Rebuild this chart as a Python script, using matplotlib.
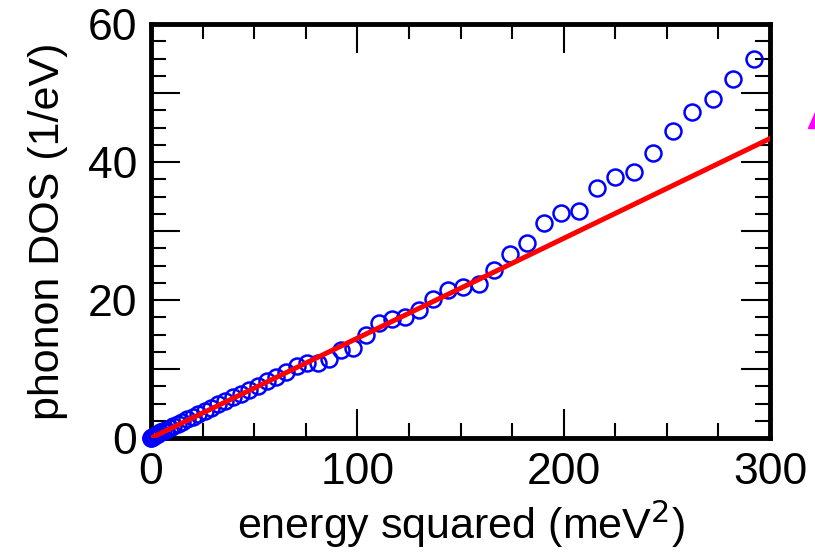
import matplotlib
matplotlib.use("Agg")
import matplotlib.pyplot as plt
from matplotlib.ticker import MultipleLocator
from matplotlib.patches import Polygon

plt.rcParams['font.family'] = ['Liberation Sans Narrow', 'Liberation Sans', 'DejaVu Sans']

# energy squared (meV^2) and phonon DOS (1/eV)
energy_sq = [0.0, 0.09, 0.36, 0.81, 1.44, 2.25, 3.24, 4.41, 5.76, 7.29,
             9.0, 10.9, 13.0, 15.2, 17.6, 20.3, 23.0, 26.0, 29.2, 32.5,
             36.0, 39.7, 43.6, 47.6, 51.8, 56.3, 60.8, 65.6, 70.6, 75.7,
             81.0, 86.5, 92.2, 98.0, 104.0, 110.3, 116.6, 123.2, 130.0, 136.9,
             144.0, 151.3, 158.8, 166.4, 174.2, 182.3, 190.4, 198.8, 207.4, 216.1,
             225.0, 234.1, 243.4, 252.8, 262.4, 272.3, 282.2, 292.4]
dos = [0.0, 0.05, 0.1, 0.2, 0.3, 0.45, 0.6, 0.8, 1.0, 1.2,
       1.45, 1.7, 2.0, 2.35, 2.7, 3.1, 3.5, 3.95, 4.4, 4.9,
       5.4, 5.9, 6.4, 6.9, 7.5, 8.3, 8.9, 9.5, 10.5, 10.9,
       10.8, 11.5, 12.7, 13.1, 14.9, 16.7, 17.3, 17.6, 18.6, 20.1,
       21.5, 21.9, 22.3, 24.4, 26.7, 28.2, 31.1, 32.6, 32.9, 36.3,
       37.8, 38.6, 41.3, 44.5, 47.2, 49.1, 52.0, 55.0]

# linear fit drawn in red
fit_x = [0, 300]
fit_y = [0, 43.4]

fig = plt.figure(figsize=(8.15, 5.55), dpi=100)
ax = fig.add_axes([151 / 815, 1 - 438 / 555, 619 / 815, 414 / 555])

ax.plot(energy_sq, dos, 'o', ms=11.5, mfc='none', mec='#0000ff', mew=1.8,
        clip_on=False, zorder=3)
ax.plot(fit_x, fit_y, '-', color='#ff0000', lw=3.6, zorder=4)

ax.set_xlim(0, 300)
ax.set_ylim(0, 60)
ax.xaxis.set_major_locator(MultipleLocator(100))
ax.xaxis.set_minor_locator(MultipleLocator(25))
ax.yaxis.set_major_locator(MultipleLocator(10))
ax.yaxis.set_minor_locator(MultipleLocator(2.5))
ax.set_yticks([0, 10, 20, 30, 40, 50, 60])
ax.set_yticklabels(['0', '', '20', '', '40', '', '60'])

ax.tick_params(which='both', direction='in', top=True, right=True,
               labelsize=32, width=1.5, pad=10)
ax.tick_params(which='major', length=21)
ax.tick_params(which='minor', length=10.5)
for s in ax.spines.values():
    s.set_linewidth(3.5)

ax.set_xlabel('energy squared (meV$^2$)', fontsize=31, labelpad=4)
ax.set_ylabel('phonon DOS (1/eV)', fontsize=31, labelpad=14)

# small magenta mark cut off at the right edge
fig.patches.append(Polygon([[808 / 815, 1 - 128 / 555], [815 / 815, 1 - 128 / 555],
                            [815 / 815, 1 - 112 / 555]],
                           closed=True, color='#ff00ff', transform=fig.transFigure))

fig.savefig('out.png', dpi=100)
